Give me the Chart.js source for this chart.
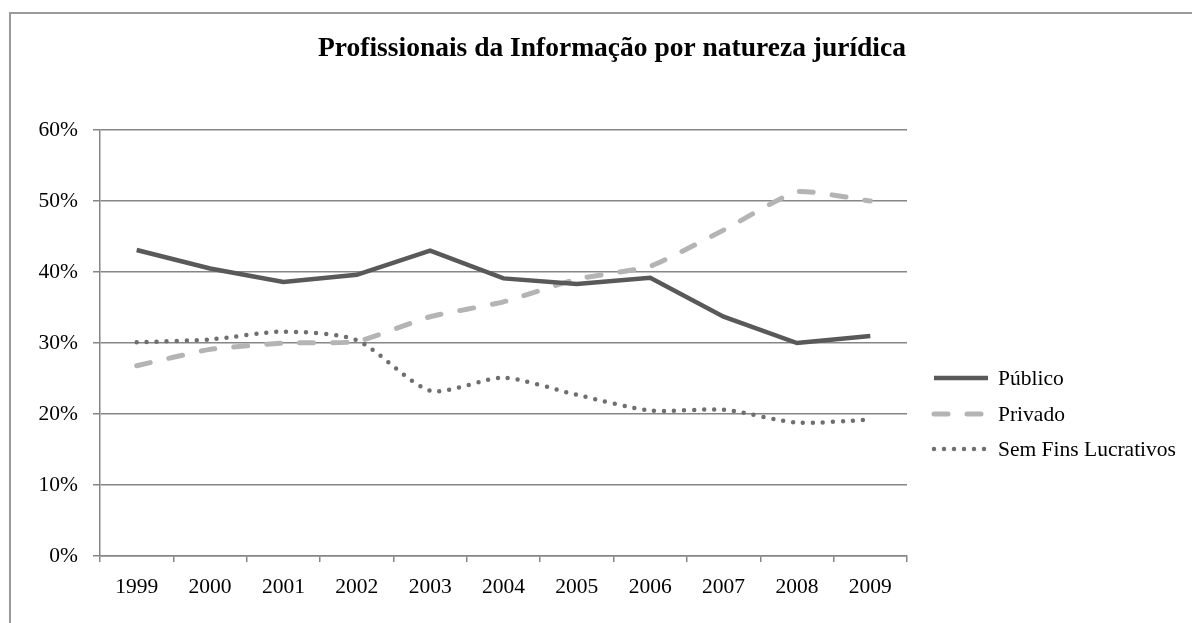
<!DOCTYPE html>
<html>
<head>
<meta charset="utf-8">
<script src="https://cdn.jsdelivr.net/npm/chart.js@4/dist/chart.umd.min.js"></script>
<style>
  html, body { margin: 0; padding: 0; background: #fff; }
  canvas { display: block; }
</style>
</head>
<body>
<canvas id="chart" width="1192" height="623"></canvas>
<script>
var chartTitle = 'Profissionais da Informação por natureza jurídica';
var years = ['1999', '2000', '2001', '2002', '2003', '2004', '2005', '2006', '2007', '2008', '2009'];
var seriesNames = ['Público', 'Privado', 'Sem Fins Lucrativos'];
var publico = [43.1, 40.5, 38.6, 39.6, 43.0, 39.1, 38.3, 39.2, 33.7, 30.0, 31.0];
var privado = [26.8, 29.1, 30.0, 30.2, 33.7, 35.8, 39.0, 40.8, 45.9, 51.3, 50.0];
var semFins = [30.1, 30.5, 31.6, 30.4, 23.3, 25.1, 22.7, 20.5, 20.6, 18.8, 19.2];
var yTicks = [0, 10, 20, 30, 40, 50, 60];

var FONT = 'Liberation Serif, Times New Roman, serif';
var AXIS = '#868686';

// frame, title and right-hand legend drawn by hand
var decorations = {
    id: 'decorations',
    beforeDraw: function (chart) {
        var ctx = chart.ctx;
        ctx.save();
        ctx.strokeStyle = '#9a9a9a';
        ctx.lineWidth = 2;
        ctx.strokeRect(10, 13, 1400, 800);
        ctx.fillStyle = '#000';
        ctx.font = 'bold 27.5px ' + FONT;
        ctx.textAlign = 'center';
        ctx.textBaseline = 'alphabetic';
        ctx.fillText(chartTitle, 612, 56);
        ctx.restore();
    },
    afterDraw: function (chart) {
        var ctx = chart.ctx;
        var rows = [378, 414, 449];
        ctx.save();
        chart.data.datasets.forEach(function (ds, i) {
            var y = rows[i];
            ctx.beginPath();
            ctx.strokeStyle = ds.borderColor;
            ctx.lineWidth = ds.borderWidth;
            ctx.lineCap = ds.borderCapStyle || 'butt';
            ctx.setLineDash(ds.borderDash || []);
            ctx.moveTo(934, y);
            ctx.lineTo(988, y);
            ctx.stroke();
            ctx.setLineDash([]);
            ctx.fillStyle = '#000';
            ctx.font = '21.5px ' + FONT;
            ctx.textAlign = 'left';
            ctx.textBaseline = 'middle';
            ctx.fillText(ds.label, 998, y + 1);
        });
        ctx.restore();
    }
};

new Chart(document.getElementById('chart'), {
    type: 'line',
    data: {
        labels: years,
        datasets: [{
            label: seriesNames[0],
            data: publico,
            borderColor: '#595959',
            borderWidth: 4.5,
            pointRadius: 0,
            tension: 0
        }, {
            label: seriesNames[1],
            data: privado,
            borderColor: '#b4b4b4',
            borderWidth: 5,
            borderDash: [14, 19],
            borderCapStyle: 'round',
            pointRadius: 0,
            tension: 0.15
        }, {
            label: seriesNames[2],
            data: semFins,
            borderColor: '#6f6f6f',
            borderWidth: 4.5,
            borderDash: [0, 10],
            borderCapStyle: 'round',
            pointRadius: 0,
            tension: 0.25
        }]
    },
    options: {
        responsive: false,
        animation: false,
        layout: { padding: { top: 130, right: 285, left: 0, bottom: 0 } },
        plugins: {
            legend: { display: false },
            title: { display: false },
            tooltip: { enabled: false }
        },
        scales: {
            x: {
                offset: true,
                grid: { offset: true, drawOnChartArea: false, tickLength: 6, color: AXIS, lineWidth: 1.5 },
                border: { color: AXIS, width: 1.5 },
                ticks: { color: '#000', padding: 12, maxRotation: 0, font: { family: FONT, size: 21.5 } },
                afterFit: function (s) { s.height = 67; }
            },
            y: {
                min: 0,
                max: 60,
                afterBuildTicks: function (s) { s.ticks = yTicks.map(function (v) { return { value: v }; }); },
                grid: { color: AXIS, tickLength: 7, lineWidth: 1.5 },
                border: { color: AXIS, width: 1.5 },
                ticks: {
                    color: '#000', padding: 15,
                    font: { family: FONT, size: 21.5 },
                    callback: function (v) { return v + '%'; }
                },
                afterFit: function (s) { s.width = 100; }
            }
        }
    },
    plugins: [decorations]
});
</script>
</body>
</html>
